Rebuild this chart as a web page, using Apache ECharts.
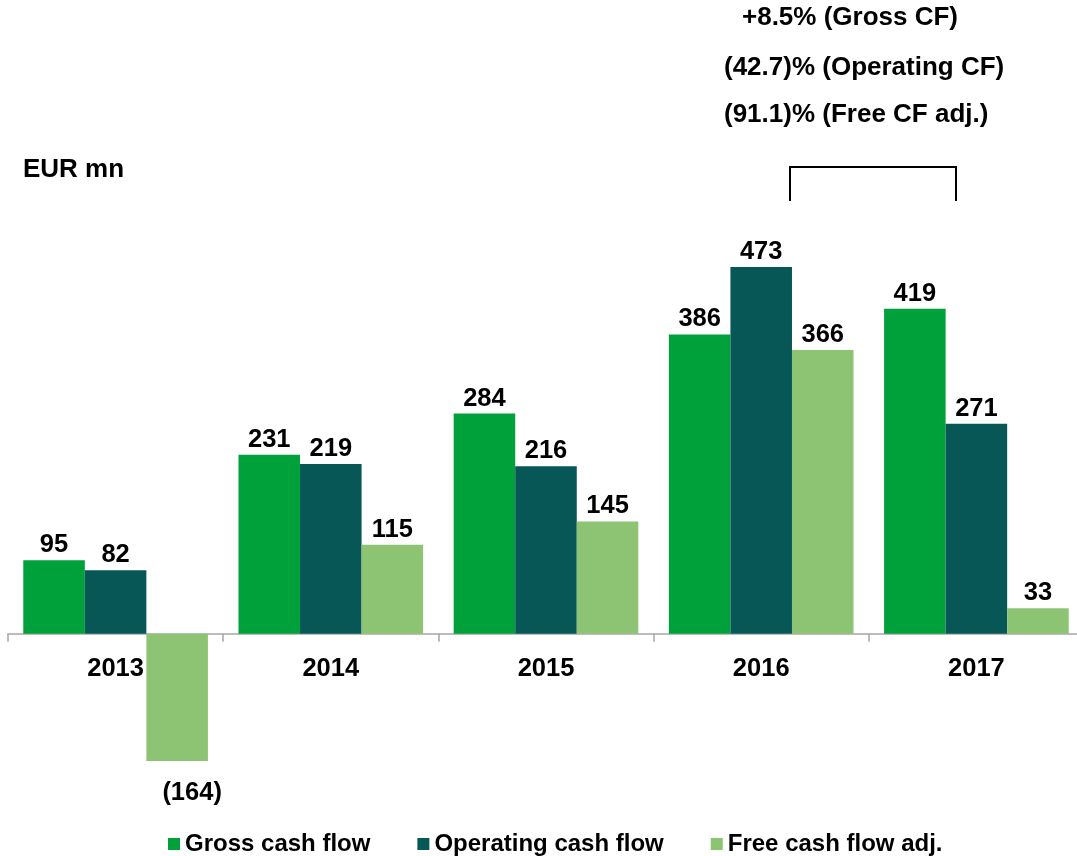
<!DOCTYPE html>
<html>
<head>
<meta charset="utf-8">
<script src="https://cdn.jsdelivr.net/npm/echarts@6/dist/echarts.min.js"></script>
<style>html,body{margin:0;padding:0;background:#fff;overflow:hidden;}#c{width:1090px;height:856px;}</style>
</head>
<body>
<div id="c"></div>
<script>
var years = ['2013', '2014', '2015', '2016', '2017'];
var grossCF = [95, 231, 284, 386, 419];
var operatingCF = [82, 219, 216, 473, 271];
var freeCFadj = [-164, 115, 145, 366, 33];
var seriesNames = ['Gross cash flow', 'Operating cash flow', 'Free cash flow adj.'];
var unitLabel = 'EUR mn';
var changeNotes = ['+8.5% (Gross CF)', '(42.7)% (Operating CF)', '(91.1)% (Free CF adj.)'];

var FONT = '"Liberation Sans", Arial, sans-serif';
var colors = ['#00A03A', '#065756', '#8DC474'];

function fmt(v) { return v < 0 ? '(' + Math.abs(v) + ')' : String(v); }

var labelStyle = {
  show: true, position: 'top', distance: 2,
  fontFamily: FONT, fontWeight: 'bold', fontSize: 25.5, color: '#000',
  formatter: function (p) { return fmt(p.value); }
};

function mkSeries(name, data, color, isFree) {
  return {
    name: name, type: 'bar', data: data.map(function (v) {
      if (isFree && v < 0) {
        return { value: v, label: { position: 'bottom', offset: [15, 17] } };
      }
      return v;
    }),
    barGap: '0%', barCategoryGap: '14.2%',
    itemStyle: { color: color },
    label: labelStyle
  };
}

var chart = echarts.init(document.getElementById('c'), null, { renderer: 'canvas' });
chart.setOption({
  animation: false,
  backgroundColor: '#fff',
  grid: { left: 8, width: 1076, top: 246, bottom: 67, containLabel: false },
  xAxis: {
    type: 'category', data: years,
    axisLine: { onZero: true, lineStyle: { color: '#A6A6A6', width: 1.5 } },
    axisTick: { show: true, length: 8, lineStyle: { color: '#A6A6A6', width: 1.5 } },
    axisLabel: { show: false }
  },
  yAxis: { type: 'value', min: -200, max: 500, show: false, splitLine: { show: false } },
  legend: {
    left: 163, top: 827, itemWidth: 12, itemHeight: 12, itemGap: 47, icon: 'rect',
    textStyle: { fontFamily: FONT, fontWeight: 'bold', fontSize: 24, color: '#000' },
    data: seriesNames
  },
  series: [
    mkSeries(seriesNames[0], grossCF, colors[0], false),
    mkSeries(seriesNames[1], operatingCF, colors[1], false),
    mkSeries(seriesNames[2], freeCFadj, colors[2], true),
    {
      name: 'categoryLabels', type: 'scatter', symbolSize: 0, silent: true,
      itemStyle: { opacity: 1, color: 'rgba(0,0,0,0)' },
      data: years.map(function (y) { return [y, 0]; }),
      label: {
        show: true, position: 'bottom', distance: 22, opacity: 1,
        fontFamily: FONT, fontWeight: 'bold', fontSize: 25.5, color: '#000',
        formatter: function (p) { return p.value[0]; }
      },
      z: 5
    }
  ],
  graphic: [
    { type: 'text', left: 23, top: 157, style: { text: unitLabel, font: 'bold 26px ' + FONT, fill: '#000' } },
    { type: 'text', x: 742, y: 18, style: { text: changeNotes[0], font: 'bold 26px ' + FONT, fill: '#000', textVerticalAlign: 'middle' } },
    { type: 'text', x: 724, y: 68, style: { text: changeNotes[1], font: 'bold 26px ' + FONT, fill: '#000', textVerticalAlign: 'middle' } },
    { type: 'text', x: 724, y: 115, style: { text: changeNotes[2], font: 'bold 26px ' + FONT, fill: '#000', textVerticalAlign: 'middle' } },
    { type: 'polyline', shape: { points: [[790, 201], [790, 167], [956, 167], [956, 201]] }, style: { stroke: '#000', lineWidth: 2, fill: null } }
  ]
});
</script>
</body>
</html>
